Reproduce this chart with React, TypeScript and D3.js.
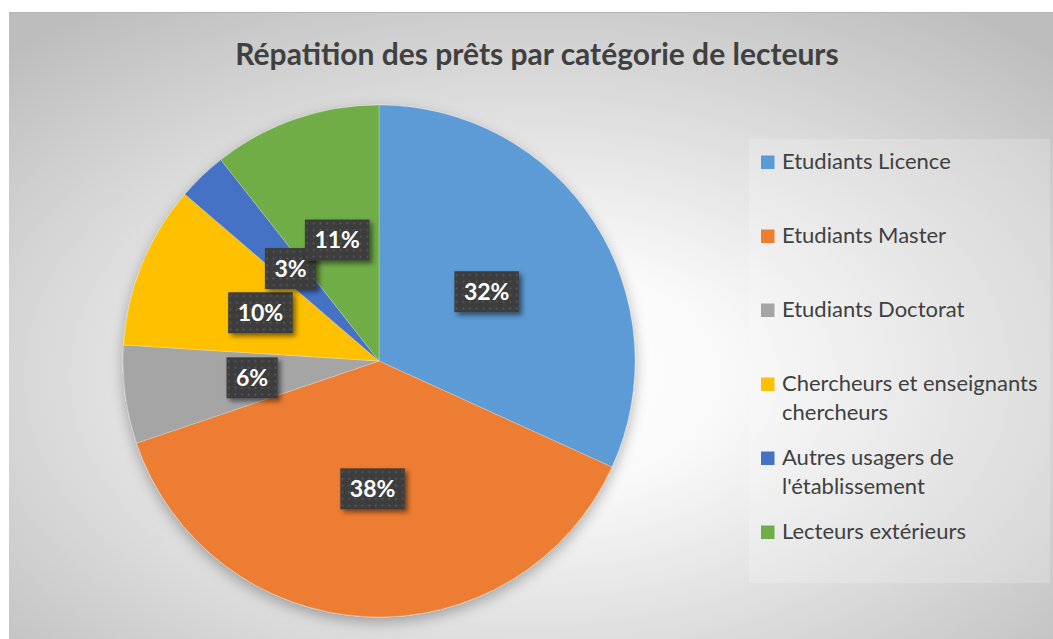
import React, { useEffect, useRef } from 'react';
import * as d3 from 'd3';

// shares of loans per reader category (%)
const categories = [
  'Etudiants Licence',
  'Etudiants Master',
  'Etudiants Doctorat',
  'Chercheurs et enseignants chercheurs',
  "Autres usagers de l'établissement",
  'Lecteurs extérieurs',
];
const shares = [31.8, 38.0, 6.2, 10.3, 3.1, 10.6];
const colors = ['#5B9BD5', '#ED7D31', '#A5A5A5', '#FFC000', '#4472C4', '#70AD47'];
const title = 'Répatition des prêts par catégorie de lecteurs';

const W = 1053;
const H = 639;

// greedy word wrap for legend entries
function wrap(s: string, maxChars: number) {
  const words = s.split(' ');
  const lines: string[] = [];
  let cur = '';
  words.forEach(w => {
    const next = cur ? cur + ' ' + w : w;
    if (next.length > maxChars && cur) {
      lines.push(cur);
      cur = w;
    } else cur = next;
  });
  if (cur) lines.push(cur);
  return lines;
}

export default function App() {
  const ref = useRef<SVGSVGElement>(null);

  useEffect(() => {
    const svg = d3.select(ref.current);
    svg.selectAll('*').remove();

    const defs = svg.append('defs');
    const grad = defs.append('radialGradient')
      .attr('id', 'bg')
      .attr('cx', '50%').attr('cy', '58%').attr('r', '72%');
    grad.append('stop').attr('offset', '0%').attr('stop-color', '#ffffff');
    grad.append('stop').attr('offset', '25%').attr('stop-color', '#fafafa');
    grad.append('stop').attr('offset', '100%').attr('stop-color', '#bdbdbd');

    defs.append('filter').attr('id', 'pieShadow')
      .attr('x', '-20%').attr('y', '-20%').attr('width', '140%').attr('height', '140%')
      .append('feDropShadow')
      .attr('dx', 0).attr('dy', 5).attr('stdDeviation', 7)
      .attr('flood-color', '#000').attr('flood-opacity', 0.3);

    defs.append('filter').attr('id', 'lblShadow')
      .attr('x', '-30%').attr('y', '-30%').attr('width', '160%').attr('height', '160%')
      .append('feDropShadow')
      .attr('dx', 3).attr('dy', 3).attr('stdDeviation', 2.5)
      .attr('flood-color', '#000').attr('flood-opacity', 0.5);

    const pat = defs.append('pattern').attr('id', 'dots')
      .attr('patternUnits', 'userSpaceOnUse')
      .attr('width', 6.7).attr('height', 6.7);
    pat.append('rect').attr('width', 6.7).attr('height', 6.7).attr('fill', '#3d3d3d');
    pat.append('rect').attr('x', 2.5).attr('y', 2.5).attr('width', 1.7).attr('height', 1.7)
      .attr('fill', '#5c5c5c');

    // chart area
    svg.append('rect')
      .attr('x', 9).attr('y', 12).attr('width', W - 9).attr('height', H - 12)
      .attr('fill', 'url(#bg)');
    svg.append('line')
      .attr('x1', 9).attr('x2', W).attr('y1', 12.5).attr('y2', 12.5)
      .attr('stroke', '#b5b5b5');

    svg.append('text')
      .attr('x', 537).attr('y', 65)
      .attr('text-anchor', 'middle')
      .attr('font-family', 'Lato, sans-serif')
      .attr('font-weight', 700)
      .attr('font-size', 30)
      .attr('fill', '#404040')
      .text(title);

    // pie
    const cx = 379, cy = 361, R = 256;
    const pie = d3.pie<number>().sort(null).value(d => d);
    const arcs = pie(shares);
    const arc = d3.arc<d3.PieArcDatum<number>>().innerRadius(0).outerRadius(R);
    const total = d3.sum(shares);

    const g = svg.append('g').attr('transform', `translate(${cx},${cy})`);
    g.append('g')
      .attr('filter', 'url(#pieShadow)')
      .selectAll('path')
      .data(arcs)
      .enter()
      .append('path')
      .attr('d', arc)
      .attr('fill', (d, i) => colors[i])
      .attr('stroke', '#ffffff')
      .attr('stroke-opacity', 0.3)
      .attr('stroke-width', 0.8);

    const lbl = g.append('g')
      .selectAll('g')
      .data(arcs)
      .enter()
      .append('g')
      .attr('transform', d => `translate(${arc.centroid(d)})`);

    const rects = lbl.append('rect')
      .attr('fill', 'url(#dots)')
      .attr('filter', 'url(#lblShadow)');

    const texts = lbl.append('text')
      .attr('text-anchor', 'middle')
      .attr('dy', '0.36em')
      .attr('font-family', 'Lato, sans-serif')
      .attr('font-weight', 700)
      .attr('font-size', 23)
      .attr('fill', '#ffffff')
      .text(d => Math.round((d.data / total) * 100) + '%');

    texts.each(function (d, i) {
      const w = (this as SVGTextElement).getComputedTextLength() + 19;
      d3.select(rects.nodes()[i])
        .attr('x', -w / 2).attr('y', -20.5)
        .attr('width', w).attr('height', 41);
    });

    // legend
    const lx = 749, ly0 = 139, ly1 = 583;
    svg.append('rect')
      .attr('x', lx).attr('y', ly0).attr('width', W - 3 - lx).attr('height', ly1 - ly0)
      .attr('fill', '#ffffff').attr('fill-opacity', 0.2);

    const band = d3.scaleBand<string>().domain(categories).range([ly0, ly1]);
    const item = svg.append('g')
      .selectAll('g')
      .data(categories)
      .enter()
      .append('g')
      .attr('transform', d => `translate(0,${(band(d) as number) + 30})`);

    item.append('rect')
      .attr('x', 761).attr('y', -13.5)
      .attr('width', 13.5).attr('height', 13.5)
      .attr('fill', (d, i) => colors[i]);

    item.append('text')
      .attr('font-family', 'Lato, sans-serif')
      .attr('font-size', 22)
      .attr('fill', '#404040')
      .selectAll('tspan')
      .data(d => wrap(d, 25))
      .enter()
      .append('tspan')
      .attr('x', 782)
      .attr('y', (d, i) => i * 28.5)
      .text(d => d);
  }, []);

  return (
    <svg
      ref={ref}
      width={W}
      height={H}
      style={{ position: 'absolute', left: 0, top: 0, display: 'block' }}
    />
  );
}
